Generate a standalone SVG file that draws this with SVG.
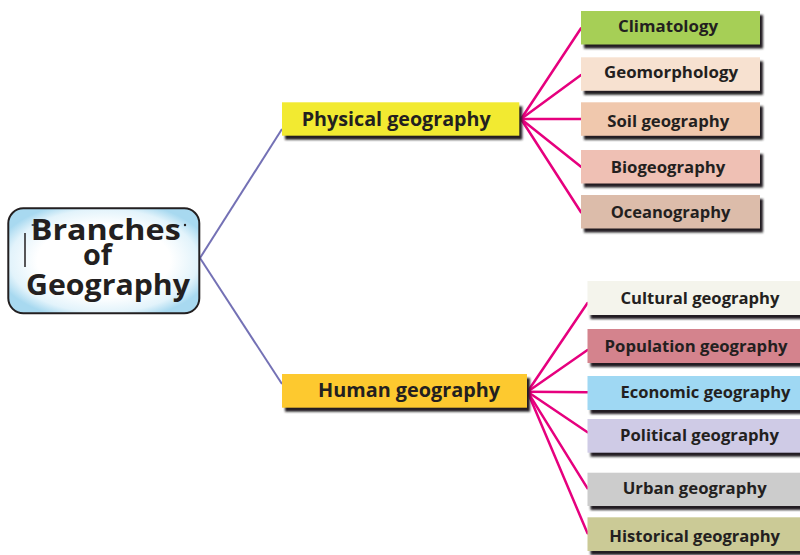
<svg xmlns="http://www.w3.org/2000/svg" width="800" height="555" viewBox="0 0 800 555">
<defs>
<filter id="blur" x="-5%" y="-20%" width="110%" height="140%"><feGaussianBlur stdDeviation="1"/></filter>
<radialGradient id="cg" cx="50%" cy="50%" r="58%">
<stop offset="0" stop-color="#ffffff"/>
<stop offset="0.6" stop-color="#ffffff"/>
<stop offset="0.85" stop-color="#e2f3fb"/>
<stop offset="1" stop-color="#a8d9f0"/>
</radialGradient>
</defs>
<style>
.sh{fill:#231f20;filter:url(#blur)}
.t{font-family:"Open Sans","Liberation Sans",sans-serif;font-weight:bold;fill:#231f20}
.leaf{font-size:16px}
.mid{font-size:19px}
.big{font-size:29px}
.pk{stroke:#e6007e;stroke-width:2.5;fill:none;stroke-linecap:round}
.pu{stroke:#7471b5;stroke-width:2;fill:none}
</style>
<rect width="800" height="555" fill="#ffffff"/>
<g id="connectors">
<line class="pu" x1="200" y1="258" x2="282" y2="129"/>
<line class="pu" x1="200" y1="258" x2="282" y2="384"/>
<line class="pk" x1="521" y1="119" x2="581" y2="28.3"/>
<line class="pk" x1="521" y1="119" x2="581" y2="75"/>
<line class="pk" x1="521" y1="119" x2="581" y2="119"/>
<line class="pk" x1="521" y1="119" x2="581" y2="166.7"/>
<line class="pk" x1="521" y1="119" x2="581" y2="212.3"/>
<line class="pk" x1="527.5" y1="391.7" x2="587.5" y2="303"/>
<line class="pk" x1="527.5" y1="391.7" x2="587.5" y2="350"/>
<line class="pk" x1="527.5" y1="391.7" x2="587.5" y2="392.3"/>
<line class="pk" x1="527.5" y1="391.7" x2="587.5" y2="432.3"/>
<line class="pk" x1="527.5" y1="391.7" x2="587.5" y2="488.3"/>
<line class="pk" x1="527.5" y1="391.7" x2="587.5" y2="533.3"/>
</g>
<g id="branches-of-geography">
<rect x="8.3" y="208.3" width="191" height="105" rx="15" fill="url(#cg)" stroke="#231f20" stroke-width="2"/>
<text class="t big" x="30.7" y="240" textLength="150" lengthAdjust="spacingAndGlyphs">Branches</text>
<text class="t big" x="83" y="265" textLength="29" lengthAdjust="spacingAndGlyphs">of</text>
<text class="t big" x="26" y="295" textLength="164" lengthAdjust="spacingAndGlyphs">Geography</text>
<line x1="31.7" y1="225" x2="37" y2="225" stroke="#231f20" stroke-width="1.5"/>
<line x1="25" y1="233" x2="25" y2="267" stroke="#231f20" stroke-width="1.5"/>
<circle cx="185" cy="225" r="1.2" fill="#231f20"/>
<circle cx="178" cy="294" r="1.2" fill="#231f20"/>
</g>
<g id="physical-geography">
<rect class="sh" x="285" y="106.3" width="237.3" height="33.4"/>
<rect x="282" y="102.3" width="237.3" height="33.4" fill="#f2ea31"/>
<text class="t mid" x="301.7" y="125.7" textLength="189" lengthAdjust="spacingAndGlyphs">Physical geography</text>
</g>
<g id="human-geography">
<rect class="sh" x="285" y="378" width="245" height="33.7"/>
<rect x="282" y="374" width="245" height="33.7" fill="#fdc92f"/>
<text class="t mid" x="318" y="397.3" textLength="182" lengthAdjust="spacingAndGlyphs">Human geography</text>
</g>
<g id="climatology">
<rect class="sh" x="584" y="15" width="179" height="33.5"/>
<rect x="581" y="11" width="179" height="33.5" fill="#a6cf56"/>
<text class="t leaf" x="618" y="32.3" textLength="100" lengthAdjust="spacingAndGlyphs">Climatology</text>
</g>
<g id="geomorphology">
<rect class="sh" x="584" y="61.3" width="179" height="33.5"/>
<rect x="581" y="57.3" width="179" height="33.5" fill="#f7e1d0"/>
<text class="t leaf" x="604" y="77.7" textLength="134" lengthAdjust="spacingAndGlyphs">Geomorphology</text>
</g>
<g id="soil-geography">
<rect class="sh" x="584" y="106.3" width="179" height="33.5"/>
<rect x="581" y="102.3" width="179" height="33.5" fill="#f0c8ad"/>
<text class="t leaf" x="607.3" y="126.7" textLength="122" lengthAdjust="spacingAndGlyphs">Soil geography</text>
</g>
<g id="biogeography">
<rect class="sh" x="584" y="154" width="179" height="33.5"/>
<rect x="581" y="150" width="179" height="33.5" fill="#efc0b4"/>
<text class="t leaf" x="610.7" y="172.7" textLength="114.6" lengthAdjust="spacingAndGlyphs">Biogeography</text>
</g>
<g id="oceanography">
<rect class="sh" x="584" y="199" width="179" height="33.5"/>
<rect x="581" y="195" width="179" height="33.5" fill="#dcbcaa"/>
<text class="t leaf" x="610.7" y="218.3" textLength="119.7" lengthAdjust="spacingAndGlyphs">Oceanography</text>
</g>
<g id="cultural-geography">
<rect class="sh" x="590.5" y="285" width="220" height="34"/>
<rect x="587.5" y="281" width="220" height="34" fill="#f4f4ec"/>
<text class="t leaf" x="620.5" y="304.3" textLength="159" lengthAdjust="spacingAndGlyphs">Cultural geography</text>
</g>
<g id="population-geography">
<rect class="sh" x="590.5" y="333" width="220" height="34"/>
<rect x="587.5" y="329" width="220" height="34" fill="#d4838d"/>
<text class="t leaf" x="604.6" y="352.3" textLength="183" lengthAdjust="spacingAndGlyphs">Population geography</text>
</g>
<g id="economic-geography">
<rect class="sh" x="590.5" y="380" width="220" height="34"/>
<rect x="587.5" y="376" width="220" height="34" fill="#9fd8f3"/>
<text class="t leaf" x="620.5" y="398.3" textLength="170" lengthAdjust="spacingAndGlyphs">Economic geography</text>
</g>
<g id="political-geography">
<rect class="sh" x="590.5" y="423" width="220" height="33.7"/>
<rect x="587.5" y="419" width="220" height="33.7" fill="#cfcbe6"/>
<text class="t leaf" x="620" y="440.7" textLength="159" lengthAdjust="spacingAndGlyphs">Political geography</text>
</g>
<g id="urban-geography">
<rect class="sh" x="590.5" y="476.7" width="220" height="33.3"/>
<rect x="587.5" y="472.7" width="220" height="33.3" fill="#cccccc"/>
<text class="t leaf" x="622.7" y="494.3" textLength="144" lengthAdjust="spacingAndGlyphs">Urban geography</text>
</g>
<g id="historical-geography">
<rect class="sh" x="590.5" y="521.3" width="220" height="33.7"/>
<rect x="587.5" y="517.3" width="220" height="33.7" fill="#cbca96"/>
<text class="t leaf" x="609.3" y="542.3" textLength="170.7" lengthAdjust="spacingAndGlyphs">Historical geography</text>
</g>
</svg>
